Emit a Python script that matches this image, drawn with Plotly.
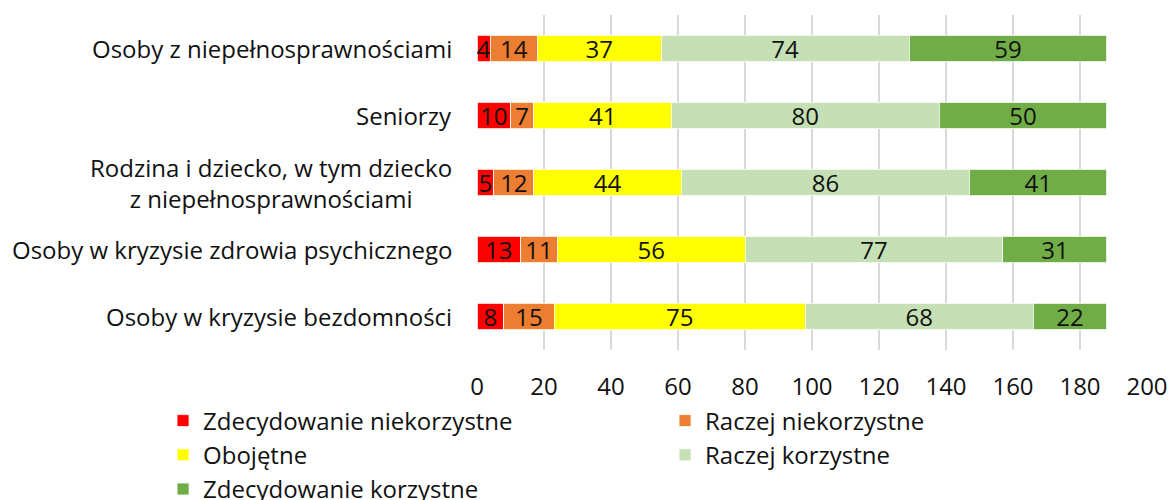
import plotly.graph_objects as go

categories = [
    "Osoby z niepełnosprawnościami",
    "Seniorzy",
    "Rodzina i dziecko, w tym dziecko<br>z niepełnosprawnościami",
    "Osoby w kryzysie zdrowia psychicznego",
    "Osoby w kryzysie bezdomności",
]
series_names = [
    "Zdecydowanie niekorzystne",
    "Raczej niekorzystne",
    "Obojętne",
    "Raczej korzystne",
    "Zdecydowanie korzystne",
]
zdec_niekorzystne = [4, 10, 5, 13, 8]
raczej_niekorzystne = [14, 7, 12, 11, 15]
obojetne = [37, 41, 44, 56, 75]
raczej_korzystne = [74, 80, 86, 77, 68]
zdec_korzystne = [59, 50, 41, 31, 22]
x_ticks = [0, 20, 40, 60, 80, 100, 120, 140, 160, 180, 200]

series_values = [zdec_niekorzystne, raczej_niekorzystne, obojetne, raczej_korzystne, zdec_korzystne]
colors = ["#FF0000", "#ED7D31", "#FFFF00", "#C5E0B4", "#70AD47"]

FONT = "Open Sans"
TXT = "#111111"
FS = 24

fig = go.Figure()
for name, vals, col in zip(series_names, series_values, colors):
    fig.add_trace(go.Bar(
        y=categories, x=vals, name=name, orientation="h",
        marker=dict(color=col, line=dict(color="white", width=0.8)),
        text=[str(v) for v in vals], textposition="inside",
        insidetextanchor="middle", textangle=0, constraintext="none",
        textfont=dict(family=FONT, size=FS, color=TXT),
        width=0.4,
    ))

for c in categories:
    fig.add_annotation(
        xref="paper", yref="y", x=0, y=c, xanchor="right", yanchor="middle",
        xshift=-23, text=c, showarrow=False, align="center",
        font=dict(family=FONT, size=FS, color=TXT),
    )

fig.update_layout(
    barmode="stack",
    width=1167, height=492,
    margin=dict(l=469, r=28, t=7, b=150, autoexpand=False),
    paper_bgcolor="white", plot_bgcolor="white",
    font=dict(family=FONT, size=FS, color=TXT),
    uniformtext=dict(minsize=FS, mode="show"),
    showlegend=True,
    legend=dict(
        orientation="h", x=-0.4686, xanchor="left", y=-0.1448, yanchor="top",
        entrywidth=457, entrywidthmode="pixels",
        font=dict(family=FONT, size=FS, color=TXT),
        traceorder="normal", itemwidth=30, tracegroupgap=0,
    ),
    xaxis=dict(
        range=[0, 200], tickvals=x_ticks, showgrid=True, gridcolor="#d9d9d9",
        gridwidth=2, zeroline=False, showline=False,
        ticks="outside", ticklen=15, tickcolor="rgba(0,0,0,0)",
        tickfont=dict(family=FONT, size=FS, color=TXT),
    ),
    yaxis=dict(
        categoryorder="array", categoryarray=categories, autorange="reversed",
        showticklabels=False, showgrid=False, zeroline=False, showline=False,
    ),
)

fig.write_html("out.html")
